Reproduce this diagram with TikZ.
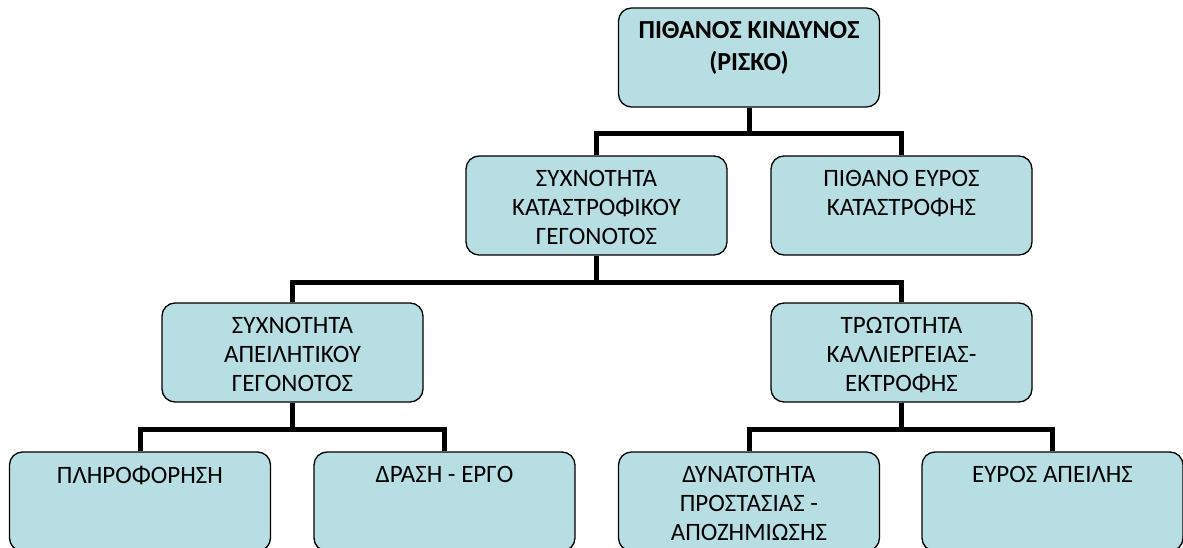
\documentclass[tikz,border=0pt]{standalone}
\usepackage{fontspec}
\setmainfont{Carlito}
\definecolor{boxfill}{RGB}{183,222,226}
\tikzset{
  box/.style={rectangle,rounded corners=13pt,draw,line width=1.3pt,fill=boxfill,
    minimum width=261pt,minimum height=99pt,inner sep=0pt},
  boxtext/.style={anchor=north,align=center,inner sep=0pt,yshift=-15pt,
    font=\fontsize{25}{29}\selectfont},
  toptext/.style={boxtext,yshift=1pt,font=\bfseries\fontsize{26}{32}\selectfont},
  link/.style={line width=5pt}
}

\begin{document}
\begin{tikzpicture}[x=1pt,y=-1pt]
  \useasboundingbox (0,0) rectangle (1183,548);

  \coordinate (b1) at (749,57.5);
  \coordinate (b2) at (596.5,205.5);
  \coordinate (b3) at (901.5,205.5);
  \coordinate (b4) at (292.5,352.5);
  \coordinate (b5) at (901.5,352.5);
  \coordinate (b6) at (140,501.5);
  \coordinate (b7) at (444.5,501.5);
  \coordinate (b8) at (749,501.5);
  \coordinate (b9) at (1052.5,501.5);

  \node [box,label={[toptext]90:{ΠΙΘΑΝΟΣ ΚΙΝΔΥΝΟΣ\\(ΡΙΣΚΟ)}}] (risk) at (b1) {};
  \node [box,label={[boxtext]90:{ΣΥΧΝΟΤΗΤΑ\\ΚΑΤΑΣΤΡΟΦΙΚΟΥ\\ΓΕΓΟΝΟΤΟΣ}}] (freq) at (b2) {};
  \node [box,label={[boxtext]90:{ΠΙΘΑΝΟ ΕΥΡΟΣ\\ΚΑΤΑΣΤΡΟΦΗΣ}}] (extent) at (b3) {};
  \node [box,label={[boxtext]90:{ΣΥΧΝΟΤΗΤΑ\\ΑΠΕΙΛΗΤΙΚΟΥ\\ΓΕΓΟΝΟΤΟΣ}}] (threat) at (b4) {};
  \node [box,label={[boxtext]90:{ΤΡΩΤΟΤΗΤΑ\\ΚΑΛΛΙΕΡΓΕΙΑΣ-\\ΕΚΤΡΟΦΗΣ}}] (vuln) at (b5) {};
  \node [box,label={[boxtext]90:{ΠΛΗΡΟΦΟΡΗΣΗ}}] (info) at (b6) {};
  \node [box,label={[boxtext]90:{ΔΡΑΣΗ - ΕΡΓΟ}}] (act) at (b7) {};
  \node [box,label={[boxtext]90:{ΔΥΝΑΤΟΤΗΤΑ\\ΠΡΟΣΤΑΣΙΑΣ -\\ΑΠΟΖΗΜΙΩΣΗΣ}}] (prot) at (b8) {};
  \node [box,label={[boxtext]90:{ΕΥΡΟΣ ΑΠΕΙΛΗΣ}}] (range) at (b9) {};

  \draw [link] (risk.south) -- ++(0,26) -| (freq.north);
  \draw [link] (risk.south) -- ++(0,26) -| (extent.north);

  \draw [link] (freq.south) -- ++(0,27) -| (threat.north);
  \draw [link] (freq.south) -- ++(0,27) -| (vuln.north);

  \draw [link] (threat.south) -- ++(0,27) -| (info.north);
  \draw [link] (threat.south) -- ++(0,27) -| (act.north);

  \draw [link] (vuln.south) -- ++(0,27) -| (prot.north);
  \draw [link] (vuln.south) -- ++(0,27) -| (range.north);
\end{tikzpicture}
\end{document}
